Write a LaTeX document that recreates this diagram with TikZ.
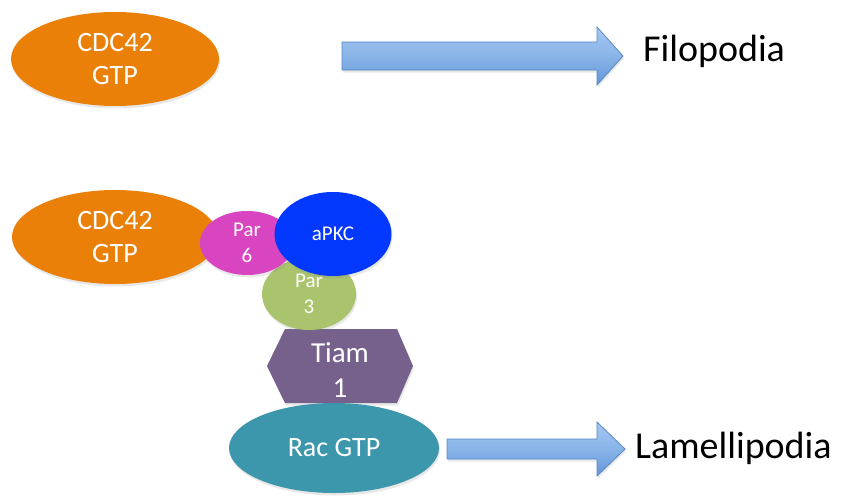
\documentclass[tikz,border=0pt]{standalone}
\usepackage{fontspec}
\setmainfont{Carlito}
\usetikzlibrary{shapes.geometric,shadows}
\definecolor{cdcorange}{RGB}{234,128,8}
\definecolor{parpink}{RGB}{217,68,192}
\definecolor{apkcblue}{RGB}{2,56,255}
\definecolor{pargreen}{RGB}{170,196,110}
\definecolor{tiampurple}{RGB}{118,96,140}
\definecolor{racteal}{RGB}{60,150,172}
\definecolor{arrowtop}{RGB}{165,199,242}
\definecolor{arrowmid}{RGB}{137,180,232}
\definecolor{arrowbot}{RGB}{98,150,216}
\definecolor{arrowedge}{RGB}{88,136,198}
\tikzset{
  shad/.style={drop shadow={opacity=0.18,shadow xshift=1pt,shadow yshift=-2.5pt}},
  blob/.style={ellipse,inner sep=0pt,text=white,align=center,shad},
  bigtxt/.style={font=\fontsize{28}{33}\selectfont},
  smalltxt/.style={font=\fontsize{21}{26}\selectfont},
  blockarrow/.style={draw=arrowedge,line width=0.8pt,top color=arrowtop,bottom color=arrowbot,middle color=arrowmid,shad},
  label/.style={font=\fontsize{38}{44}\selectfont,anchor=base west,inner sep=0pt}
}
\begin{document}
\begin{tikzpicture}[x=1pt,y=-1pt]
\useasboundingbox (0,0) rectangle (842,495);
% top row
\node[blob,bigtxt,fill=cdcorange,minimum width=208pt,minimum height=94pt] (cdcA) at (115,59) {CDC42\\GTP};
\draw[blockarrow] (342,42) -- (597,42) -- (597,27) -- (623,56) -- (597,85) -- (597,70) -- (342,70) -- cycle;
\node[label] (filo) at (643,62) {Filopodia};
% bottom complex
\draw[fill=tiampurple,draw=none,shad] (267,366) -- (285,329) -- (397,329) -- (413,366) -- (397,403) -- (285,403) -- cycle;
\node[text=white,align=center,font=\fontsize{29}{35}\selectfont,inner sep=0pt] (tiam) at (340,370) {Tiam\\1};
\node[blob,bigtxt,fill=racteal,minimum width=210pt,minimum height=90pt] (rac) at (334,448) {Rac GTP};
\node[blob,smalltxt,fill=pargreen,minimum width=94pt,minimum height=72pt] (par3) at (309,294) {Par\\3};
\node[blob,bigtxt,fill=cdcorange,minimum width=206pt,minimum height=94pt] (cdcB) at (115,237) {CDC42\\GTP};
\node[blob,smalltxt,fill=parpink,minimum width=94pt,minimum height=64pt] (par6) at (247,243) {Par\\6};
\node[blob,smalltxt,fill=apkcblue,minimum width=117pt,minimum height=84pt] (apkc) at (333,234) {aPKC};
\draw[blockarrow] (447,439) -- (597,439) -- (597,422) -- (625,449) -- (597,476) -- (597,459) -- (447,459) -- cycle;
\node[label] (lamelli) at (635,458) {Lamellipodia};
\end{tikzpicture}
\end{document}
